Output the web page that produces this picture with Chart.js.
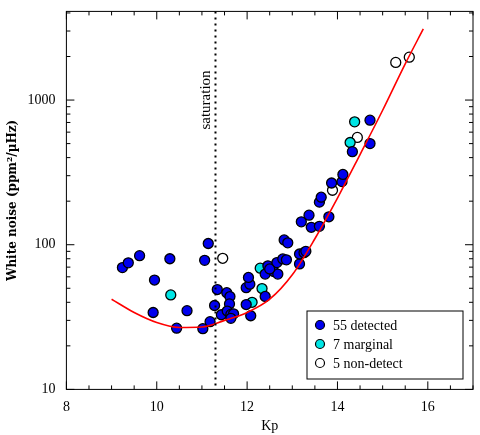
<!DOCTYPE html>
<html lang="en">
<head>
<meta charset="UTF-8">
<script src="https://cdn.jsdelivr.net/npm/chart.js"></script>
<style>body{margin:0;background:#fff}#wrap{width:480px;height:435px}</style>
</head>
<body>
<div id="wrap"><canvas id="c"></canvas></div>
<script>
// detected stars [Kp, white noise]
const detectedKp = [9.24,9.37,9.62,10.29,11.14,11.06,9.95,9.92,10.67,10.44,11.02,11.18,11.34,11.28,11.55,11.62,11.61,11.43,11.56,11.64,11.70,11.64,11.98,12.08,12.40,11.98,12.06,12.03,12.46,12.40,12.59,12.68,12.66,12.79,12.87,13.16,13.16,13.26,12.82,12.90,13.20,13.37,13.42,13.60,13.81,13.60,13.64,13.87,14.10,14.12,14.33,14.72,14.72,12.50,13.30];
const detectedNoise = [69.5,75,84,80,102,78,57,34,35,26.5,26.3,29.4,49,38,46.6,43.8,39,32.8,34.8,33,33.3,31,38.6,32.3,43.9,50.5,53.4,59.4,71.5,62.7,65.3,62.7,75.3,79.8,78.6,73.7,86.3,88.1,108,103,144,160,132,134,156,197,213,267,273,306,440,726,500,68,90];
const marginalKp = [10.31,12.11,12.33,12.29,14.28,14.38,12.55];
const marginalNoise = [45,40,49.8,68.9,509,707,70];
const nonDetectKp = [11.46,13.89,14.44,15.29,15.59];
const nonDetectNoise = [80.6,238,552,1820,1980];
// predicted noise curve
const curveKp = [9,9.5,10,10.5,11,11.5,12,12.5,13,13.5,14,14.5,15,15.5,15.9];
const curveNoise = [42,34,29,26.8,27,30,34,42,62,110,210,420,850,1780,3100];
const saturationKp = 11.3;
const legendLabels = ['55 detected','7 marginal','5 non-detect'];

const font = "'Liberation Serif', serif";
const xy = (xs, ys) => xs.map((x, i) => ({x, y: ys[i]}));

const deco = {
  id: 'deco',
  afterDraw(chart) {
    const {ctx, chartArea: a, scales: {x, y}} = chart;
    ctx.save();
    ctx.strokeStyle = '#000'; ctx.lineWidth = 1;
    ctx.strokeRect(a.left, a.top, a.right - a.left, a.bottom - a.top);
    ctx.beginPath();
    for (let v = 8; v <= 17; v += 0.5) {
      const p = x.getPixelForValue(v), len = v % 2 === 0 ? 8 : 4;
      ctx.moveTo(p, a.bottom); ctx.lineTo(p, a.bottom - len);
      ctx.moveTo(p, a.top); ctx.lineTo(p, a.top + len);
    }
    for (let d = 10; d <= 1000; d *= 10) {
      for (let m = 1; m < 10; m++) {
        const v = d * m; if (v > y.max) break;
        const p = y.getPixelForValue(v), len = m === 1 ? 8 : 4;
        ctx.moveTo(a.left, p); ctx.lineTo(a.left + len, p);
        ctx.moveTo(a.right, p); ctx.lineTo(a.right - len, p);
      }
    }
    ctx.stroke();
    // saturation line
    const sx = x.getPixelForValue(saturationKp);
    ctx.setLineDash([2, 4]); ctx.lineWidth = 2;
    ctx.beginPath(); ctx.moveTo(sx, a.top); ctx.lineTo(sx, a.bottom); ctx.stroke();
    ctx.setLineDash([]);
    ctx.translate(sx - 5, 100); ctx.rotate(-Math.PI / 2);
    ctx.font = '15px ' + font; ctx.fillStyle = '#000'; ctx.textAlign = 'center';
    ctx.fillText('saturation', 0, 0);
    ctx.restore();
    // legend
    ctx.save();
    const lx = 307, ly = 311, lw = 156, lh = 68;
    ctx.fillStyle = '#fff'; ctx.fillRect(lx, ly, lw, lh);
    ctx.strokeRect(lx, ly, lw, lh);
    const cols = ['#0000ee', '#00e5e5', '#ffffff'];
    ctx.font = '14px ' + font; ctx.textBaseline = 'middle';
    legendLabels.forEach((t, i) => {
      const cy = ly + 14 + i * 19;
      ctx.beginPath(); ctx.arc(lx + 13, cy, 4.5, 0, 2 * Math.PI);
      ctx.fillStyle = cols[i]; ctx.fill(); ctx.lineWidth = 1.2; ctx.stroke();
      ctx.fillStyle = '#000'; ctx.fillText(t, lx + 26, cy + 1);
    });
    ctx.restore();
  }
};

const pt = (bg) => ({type: 'scatter', backgroundColor: bg, borderColor: '#000', borderWidth: 1.3, pointRadius: 5, pointHoverRadius: 5});

new Chart(document.getElementById('c'), {
  data: {
    datasets: [
      {type: 'line', data: xy(curveKp, curveNoise), borderColor: '#ff0000', borderWidth: 1.6, pointRadius: 0, tension: 0.4, cubicInterpolationMode: 'monotone'},
      {...pt('#0000ee'), data: xy(detectedKp, detectedNoise)},
      {...pt('#00e5e5'), data: xy(marginalKp, marginalNoise)},
      {...pt('#ffffff'), data: xy(nonDetectKp, nonDetectNoise)}
    ]
  },
  options: {
    responsive: true, maintainAspectRatio: false, animation: false,
    layout: {padding: {top: 8, right: 7, left: 2, bottom: 0}},
    plugins: {legend: {display: false}, tooltip: {enabled: false}},
    scales: {
      x: {type: 'linear', min: 8, max: 17,
        grid: {display: false}, border: {display: false},
        ticks: {stepSize: 2, padding: 2, color: '#000', font: {family: font, size: 14}, callback: v => v <= 16 ? v : ''},
        title: {display: true, text: 'Kp', color: '#000', font: {family: font, size: 14}, padding: {top: 0, bottom: 0}}},
      y: {type: 'logarithmic', min: 10, max: 4100,
        grid: {display: false}, border: {display: false},
        afterBuildTicks: s => { s.ticks = [10, 100, 1000].map(v => ({value: v})); },
        ticks: {color: '#000', font: {family: font, size: 14}, callback: v => String(v)},
        title: {display: true, text: 'White noise (ppm²/µHz)', color: '#000', font: {family: "'DejaVu Serif', serif", size: 12, weight: 'bold'}}}
    }
  },
  plugins: [deco]
});
</script>
</body>
</html>
